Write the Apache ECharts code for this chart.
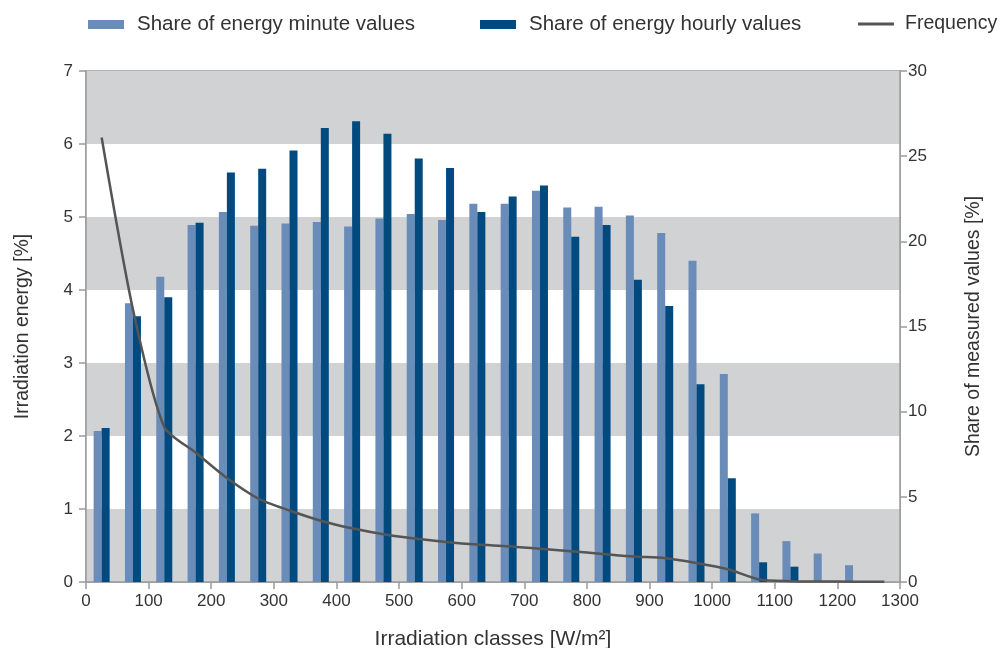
<!DOCTYPE html>
<html><head><meta charset="utf-8">
<script src="https://cdn.jsdelivr.net/npm/echarts@6/dist/echarts.min.js"></script>
<style>html,body{margin:0;padding:0;background:#fff}#c{width:1002px;height:648px}</style>
</head><body><div id="c"></div>
<script>
const classCenters = [25,75,125,175,225,275,325,375,425,475,525,575,625,675,725,775,825,875,925,975,1025,1075,1125,1175,1225,1275];
const minuteValues = [2.07,3.82,4.18,4.89,5.07,4.88,4.91,4.93,4.87,4.98,5.04,4.96,5.18,5.18,5.36,5.13,5.14,5.02,4.78,4.40,2.85,0.94,0.56,0.39,0.23,0];
const hourlyValues = [2.11,3.64,3.90,4.92,5.61,5.66,5.91,6.22,6.31,6.14,5.80,5.67,5.07,5.28,5.43,4.73,4.89,4.14,3.78,2.71,1.42,0.27,0.21,0,0,0];
const frequencyValues = [26.1,16.0,9.1,7.6,6.1,4.9,4.2,3.6,3.15,2.8,2.55,2.35,2.2,2.1,1.95,1.8,1.65,1.5,1.4,1.12,0.75,0.15,0.05,0.03,0.02,0.02];

const font = 'Liberation Sans';
const txt = '#333';
const axisGray = '#9a9a9a';
const chart = echarts.init(document.getElementById('c'), null, {renderer:'canvas'});
const pair = (xs, ys) => xs.map((x,i)=>[x, ys[i]]);
const legendBase = {top: 9, itemWidth: 36, itemHeight: 9, textStyle:{fontFamily:font, fontSize:20.5, color:txt, padding:[0,0,0,8]}, selectedMode:false};
chart.setOption({
  animation:false,
  textStyle:{fontFamily:font},
  legend:[
    Object.assign({left:83, data:[{name:'Share of energy minute values', icon:'rect'}]}, legendBase),
    Object.assign({left:475, data:[{name:'Share of energy hourly values', icon:'rect'}]}, legendBase),
    Object.assign({}, legendBase, {left:853, itemHeight:3, textStyle:{fontFamily:font, fontSize:19.5, color:txt, padding:[0,0,0,6]}, data:[{name:'Frequency', icon:'rect', itemStyle:{color:'#555'}}]})
  ],
  grid:{left:86, right:102, top:71, bottom:66, outerBoundsMode:'none', containLabel:false, show:true, borderColor:axisGray, borderWidth:1.5, backgroundColor:'transparent'},
  xAxis:{type:'value', min:0, max:1300, interval:100,
    name:'Irradiation classes [W/m²]', nameLocation:'middle', nameGap:47,
    nameTextStyle:{fontFamily:font, fontSize:21, color:txt},
    axisLine:{show:true, lineStyle:{color:axisGray, width:1.5}},
    axisTick:{show:true, length:7, lineStyle:{color:axisGray, width:1.5}},
    axisLabel:{fontFamily:font, fontSize:17, color:txt, margin:11, formatter:v=>String(v)},
    splitLine:{show:false}},
  yAxis:[
    {type:'value', min:0, max:7, interval:1, position:'left',
      name:'Irradiation energy [%]', nameLocation:'middle', nameGap:53, nameRotate:90,
      nameTextStyle:{fontFamily:font, fontSize:19.5, color:txt},
      axisLine:{show:true, lineStyle:{color:axisGray, width:1.5}},
      axisTick:{show:true, length:7, lineStyle:{color:axisGray, width:1.5}},
      axisLabel:{fontFamily:font, fontSize:17, color:txt, margin:13},
      splitLine:{show:false},
      splitArea:{show:true, areaStyle:{color:['#d1d2d4','#ffffff']}}},
    {type:'value', min:0, max:30, interval:5, position:'right',
      name:'Share of measured values [%]', nameLocation:'middle', nameGap:64, nameRotate:90,
      nameTextStyle:{fontFamily:font, fontSize:19.5, color:txt},
      axisLine:{show:true, lineStyle:{color:axisGray, width:1.5}},
      axisTick:{show:true, length:7, lineStyle:{color:axisGray, width:1.5}},
      axisLabel:{fontFamily:font, fontSize:17, color:txt, margin:8},
      splitLine:{show:false}}
  ],
  series:[
    {name:'Share of energy minute values', type:'bar', yAxisIndex:0, data:pair(classCenters, minuteValues),
      barWidth:8, barGap:'0%', itemStyle:{color:'#6a8cb8'}},
    {name:'Share of energy hourly values', type:'bar', yAxisIndex:0, data:pair(classCenters, hourlyValues),
      barWidth:8, barGap:'0%', itemStyle:{color:'#004a80'}},
    {name:'Frequency', type:'line', yAxisIndex:1, data:pair(classCenters, frequencyValues),
      smooth:0.25, symbol:'none', lineStyle:{color:'#555', width:2.5}, itemStyle:{color:'#555'}, z:5}
  ]
});
</script></body></html>
